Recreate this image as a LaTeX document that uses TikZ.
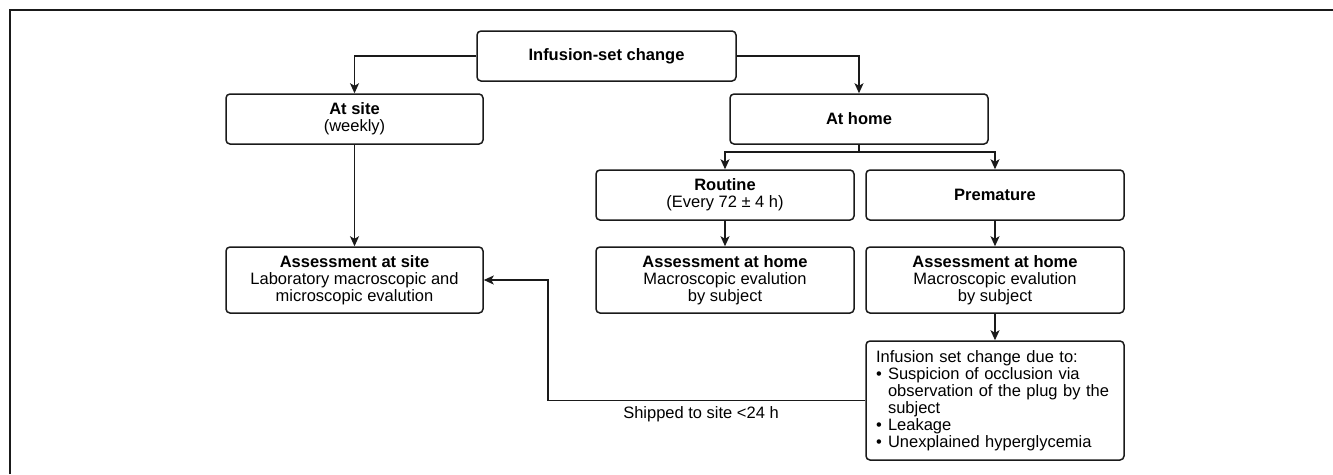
\documentclass[tikz,border=0pt]{standalone}
\usepackage{fontspec}
\setmainfont{Liberation Sans}
\usetikzlibrary{arrows.meta}
\definecolor{ink}{HTML}{1A1A1A}
\tikzset{
  box/.style={draw=ink, line width=1.5pt, rounded corners=4pt, minimum width=257pt,
    minimum height=50pt, align=center, inner sep=2pt,
    font=\fontsize{16.5}{17}\selectfont},
  arr/.style={draw=ink, line width=1.4pt, -{Stealth[length=10pt,width=9pt,inset=2.5pt]}},
  ln/.style={draw=ink, line width=1.4pt},
  lbl/.style={font=\fontsize{16.5}{17}\selectfont, inner sep=0pt}
}
\begin{document}
\begin{tikzpicture}[x=1pt,y=-1pt]
\useasboundingbox (0,0) rectangle (1333,474);
\draw[draw=ink, line width=1.5pt] (10,474) -- (10,10) -- (1333,10);

\node[box, minimum width=259pt] (isc) at (606.5,56) {\textbf{Infusion-set change}};
\node[box] (site) at (354.5,119) {\textbf{At site}\\(weekly)};
\node[box, minimum width=258pt] (home) at (859,119) {\textbf{At home}};
\node[box, minimum width=258pt] (routine) at (725,195) {\textbf{Routine}\\(Every 72 ± 4 h)};
\node[box, minimum width=258pt] (prem) at (995,195) {\textbf{Premature}};
\node[box, minimum height=66pt] (asite) at (354.5,280) {\textbf{Assessment at site}\\Laboratory macroscopic and\\microscopic evalution};
\node[box, minimum width=258pt, minimum height=66pt] (ahome) at (725,280) {\textbf{Assessment at home}\\Macroscopic evalution\\by subject};
\node[box, minimum width=258pt, minimum height=66pt] (aprem) at (995,280) {\textbf{Assessment at home}\\Macroscopic evalution\\by subject};
\node[box, minimum width=258pt, minimum height=119pt, align=left, text width=238pt, inner xsep=10pt] (due) at (995,400.5)
  {Infusion set change due to:\\
   \makebox[12pt][l]{•}Suspicion of occlusion via\\
   \hspace*{12pt}observation of the plug by the\\
   \hspace*{12pt}subject\\
   \makebox[12pt][l]{•}Leakage\\
   \makebox[12pt][l]{•}Unexplained hyperglycemia};

\coordinate (vx) at (548,0);
\coordinate (hb) at (859,152);

\draw[arr] (isc.west) -| (site.north);
\draw[arr] (isc.east) -| (home.north);
\draw[ln] (home.south) -- (hb);
\draw[arr] (hb) -| (routine.north);
\draw[arr] (hb) -| (prem.north);
\draw[arr] (site.south) -- (asite.north);
\draw[arr] (routine.south) -- (ahome.north);
\draw[arr] (prem.south) -- (aprem.north);
\draw[arr] (aprem.south) -- (due.north);
\draw[arr] (due.west) -- (due.west -| vx) |- (asite.east);
\node[lbl] (ship) at (701,414) {Shipped to site <24 h};
\end{tikzpicture}
\end{document}
